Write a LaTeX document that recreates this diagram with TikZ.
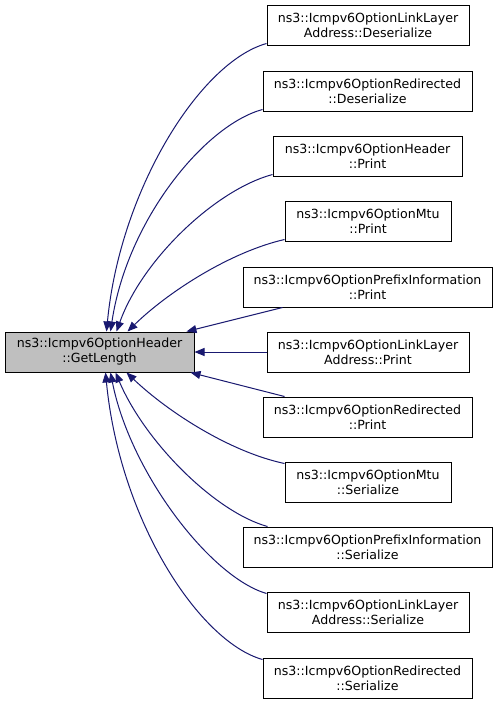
\documentclass[tikz,border=0pt]{standalone}
\usepackage{fontspec}
\setmainfont{DejaVu Sans}
\usetikzlibrary{arrows.meta,calc}
\definecolor{edgeblue}{HTML}{191970}
\definecolor{maingray}{HTML}{BFBFBF}
\begin{document}
\begin{tikzpicture}[x=1pt,y=-1pt,
  fbox/.style={draw=black, line width=1pt, fill=white, minimum height=40pt, inner sep=0pt, align=center, font=\fontsize{12.6}{15}\selectfont},
  conn/.style={draw=edgeblue, line width=1pt, -{Triangle[length=10pt,width=8pt]}}]
\useasboundingbox (0,0) rectangle (499,704);
\fill[white] (0,0) rectangle (499,704);
\node[fbox, fill=maingray, minimum width=189pt] (main) at (99.5,352) {ns3::Icmpv6OptionHeader\\::GetLength};
\node[fbox, minimum width=202pt] (b1) at (368,25) {ns3::Icmpv6OptionLinkLayer\\Address::Deserialize};
\node[fbox, minimum width=209pt] (b2) at (367.5,91) {ns3::Icmpv6OptionRedirected\\::Deserialize};
\node[fbox, minimum width=189pt] (b3) at (367.5,156) {ns3::Icmpv6OptionHeader\\::Print};
\node[fbox, minimum width=166pt] (b4) at (368,221) {ns3::Icmpv6OptionMtu\\::Print};
\node[fbox, minimum width=249pt] (b5) at (367.5,287) {ns3::Icmpv6OptionPrefixInformation\\::Print};
\node[fbox, minimum width=202pt] (b6) at (368,352) {ns3::Icmpv6OptionLinkLayer\\Address::Print};
\node[fbox, minimum width=209pt] (b7) at (367.5,417) {ns3::Icmpv6OptionRedirected\\::Print};
\node[fbox, minimum width=166pt] (b8) at (368,482) {ns3::Icmpv6OptionMtu\\::Serialize};
\node[fbox, minimum width=249pt] (b9) at (367.5,547) {ns3::Icmpv6OptionPrefixInformation\\::Serialize};
\node[fbox, minimum width=202pt] (b10) at (368,612) {ns3::Icmpv6OptionLinkLayer\\Address::Serialize};
\node[fbox, minimum width=209pt] (b11) at (367.5,678) {ns3::Icmpv6OptionRedirected\\::Serialize};
% upper edges
\draw[conn] ($(b1.south west)+(0,-2)$) .. controls (200,62) and (120,190) .. ($(main.north west)+(102,0)$);
\draw[conn] ($(b2.south west)+(0,-2)$) .. controls (205,125) and (127,220) .. ($(main.north west)+(106,0)$);
\draw[conn] ($(b3.south west)+(0,-2)$) .. controls (215,190) and (142,260) .. ($(main.north west)+(112,0)$);
\draw[conn] ($(b4.south west)+(0,-2)$) .. controls (230,252) and (168,292) .. ($(main.north west)+(123,0)$);
\draw[conn] ($(b5.south west)+(40,0)$) -- ($(main.north east)+(-8,0)$);
\draw[conn] (b6.west) -- (main.east);
% lower edges
\draw[conn] ($(b7.north west)+(22,0)$) -- ($(main.south east)+(-4,0)$);
\draw[conn] ($(b8.north west)+(0,2)$) .. controls (230,452) and (168,412) .. ($(main.south west)+(122,0)$);
\draw[conn] ($(b9.north west)+(25,0)$) .. controls (215,512) and (145,442) .. ($(main.south west)+(111,0)$);
\draw[conn] ($(b10.north west)+(0,2)$) .. controls (210,577) and (130,472) .. ($(main.south west)+(106,0)$);
\draw[conn] ($(b11.north west)+(0,2)$) .. controls (200,642) and (120,522) .. ($(main.south west)+(101,0)$);
\end{tikzpicture}
\end{document}
